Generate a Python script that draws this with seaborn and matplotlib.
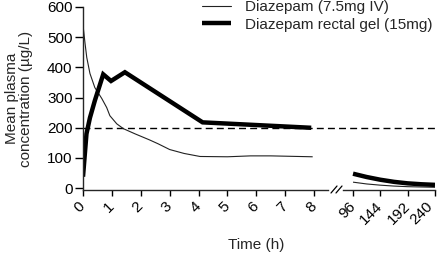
import numpy as np
import pandas as pd
import matplotlib
matplotlib.use("Agg")
import matplotlib.pyplot as plt
from matplotlib.lines import Line2D
import matplotlib.transforms as mtransforms
import seaborn as sns

# ---- data ----
iv_time_early = [0, 0.07, 0.13, 0.24, 0.41, 0.65, 0.82, 0.93, 1.17, 1.4, 1.8, 2.3, 2.6, 3.0, 3.5, 4.05, 5.0, 5.8, 6.5, 7.95]
iv_conc_early = [540, 480, 433, 380, 333, 297, 267, 240, 213, 197, 180, 160, 147, 128, 115, 105, 104, 107, 107, 104]
rg_time_early = [0, 0.12, 0.24, 0.41, 0.70, 0.97, 1.45, 4.14, 7.9]
rg_conc_early = [38, 180, 233, 290, 377, 355, 384, 218, 200]

iv_time_late = [96, 120, 144, 168, 192, 216, 240]
iv_conc_late = [20, 14, 10, 7, 5, 4, 3]
rg_time_late = [96, 120, 144, 168, 192, 216, 240]
rg_conc_late = [48, 37, 28, 21, 16, 13, 11]

early_ticks = [0, 1, 2, 3, 4, 5, 6, 7, 8]
late_ticks = [96, 144, 192, 240]
y_ticks = [0, 100, 200, 300, 400, 500, 600]
series_names = ["Diazepam (7.5mg IV)", "Diazepam rectal gel (15mg)"]
ref_level = 200

sns.set_theme(style="ticks")
plt.rcParams["font.family"] = ["Liberation Sans", "DejaVu Sans"]
plt.rcParams["axes.linewidth"] = 1.0

FS = 11
W, H = 438, 266
fig = plt.figure(figsize=(W / 100, H / 100), dpi=100)

def fx(px):
    return px / W

def fy(py):
    return 1 - py / H

ax1 = fig.add_axes([fx(83), fy(190), fx(328) - fx(83), fy(7) - fy(190)])
ax2 = fig.add_axes([fx(343), fy(190), fx(435) - fx(343), fy(7) - fy(190)])
for ax in (ax1, ax2):
    ax.patch.set_alpha(0)

df_early = pd.concat([
    pd.DataFrame({"t": iv_time_early, "c": iv_conc_early, "s": series_names[0]}),
    pd.DataFrame({"t": rg_time_early, "c": rg_conc_early, "s": series_names[1]}),
])
df_late = pd.concat([
    pd.DataFrame({"t": iv_time_late, "c": iv_conc_late, "s": series_names[0]}),
    pd.DataFrame({"t": rg_time_late, "c": rg_conc_late, "s": series_names[1]}),
])

pal = {series_names[0]: "#222222", series_names[1]: "black"}
sizes = {series_names[0]: 0.8, series_names[1]: 3.2}

for ax, d in [(ax1, df_early), (ax2, df_late)]:
    sns.lineplot(data=d, x="t", y="c", hue="s", size="s", sizes=sizes,
                 palette=pal, ax=ax, legend=False, sort=False,
                 estimator=None)
    for ln in ax.get_lines():
        ln.set_solid_capstyle("butt")
        ln.set_solid_joinstyle("miter")

ymin, ymax = -6, 600
ax1.set_xlim(0, 8.48)
ax2.set_xlim(78.4, 240)
for ax in (ax1, ax2):
    ax.set_ylim(ymin, ymax)
    ax.spines["top"].set_visible(False)
    ax.spines["right"].set_visible(False)
    ax.set_xlabel("")
    ax.set_ylabel("")
    ax.tick_params(axis="x", direction="out", length=4.5, width=1,
                   labelsize=FS, colors="black", pad=2)
    ax.tick_params(axis="y", direction="out", length=6, width=1,
                   labelsize=FS, colors="black", pad=1.5)

ax2.spines["left"].set_visible(False)
ax2.tick_params(axis="y", left=False, labelleft=False)

ax1.set_yticks(y_ticks)
ax1.set_xticks(early_ticks)
ax2.set_xticks(late_ticks)
for ax in (ax1, ax2):
    labs = ax.get_xticklabels()
    for i, lab in enumerate(labs):
        dx = -5
        if ax is ax2 and i == len(labs) - 1:
            dx = -9
        lab.set_rotation(45)
        lab.set_ha("right")
        lab.set_va("top")
        lab.set_rotation_mode("anchor")
        lab.set_transform(lab.get_transform() +
                          mtransforms.ScaledTranslation(dx / 100, 0, fig.dpi_scale_trans))

# dashed reference line spanning both panels
ax1.axhline(ref_level, xmin=0, xmax=(W - 83) / (328 - 83), color="black",
            lw=1.0, ls=(0, (5, 3)), clip_on=False, zorder=0)

# axis break marks
for dx in (0, 5):
    fig.add_artist(Line2D([fx(331 + dx), fx(337 + dx)], [fy(193), fy(186)],
                          color="black", lw=0.9))

ax1.set_ylabel("Mean plasma\nconcentration (\u00b5g/L)", fontsize=FS,
               linespacing=1.0, multialignment="center")
ax1.yaxis.set_label_coords((33 - 83) / (328 - 83), 0.5)

fig.text(fx(256), fy(245), "Time (h)", ha="center", va="center", fontsize=FS)

# legend
handles = [Line2D([], [], color="#222222", lw=0.8),
           Line2D([], [], color="black", lw=3.2, solid_capstyle="butt")]
fig.legend(handles, series_names, loc="upper left",
           bbox_to_anchor=(fx(202), fy(0)), frameon=False, fontsize=FS,
           handlelength=1.87, handletextpad=0.95, labelspacing=0.25,
           borderaxespad=0, borderpad=0)

fig.savefig("out.png", dpi=100)
